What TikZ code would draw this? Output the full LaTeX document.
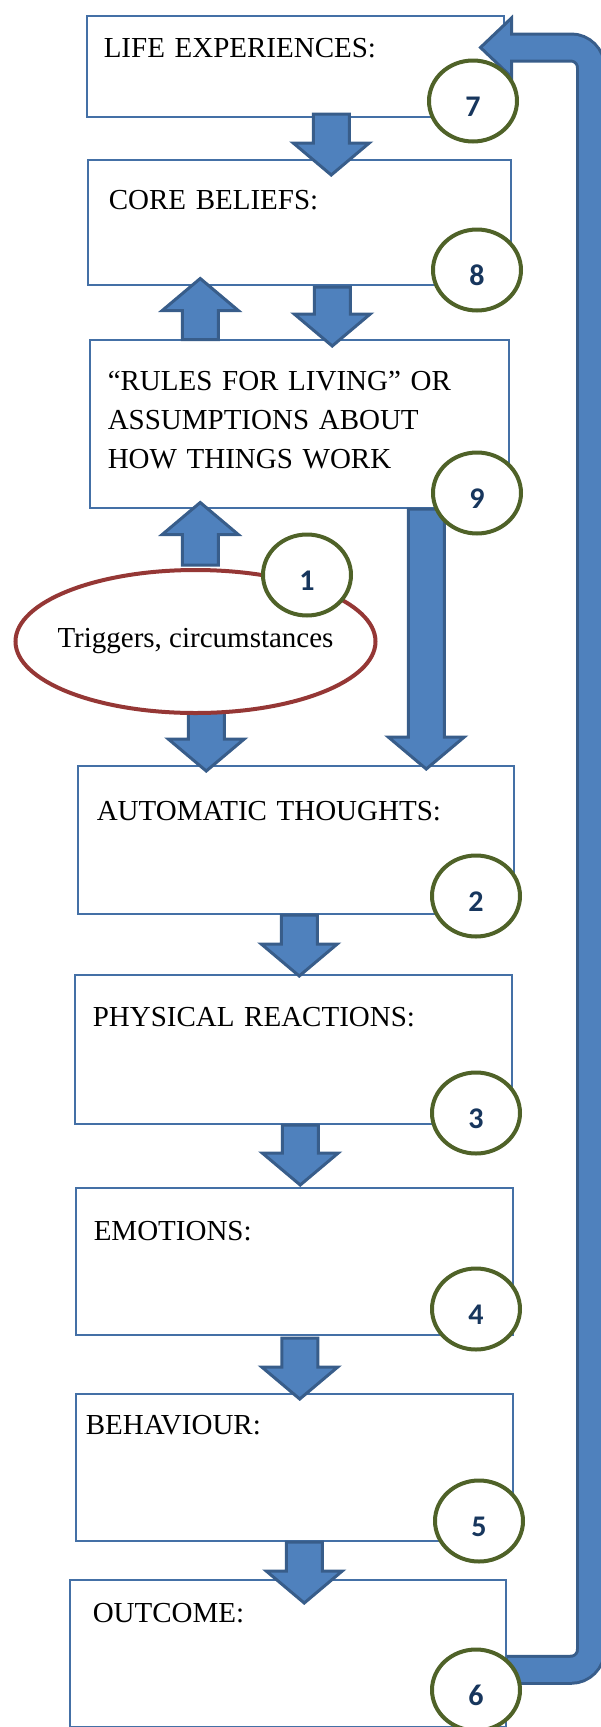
\documentclass[tikz,border=0pt]{standalone}
\usepackage{fontspec}
\setmainfont{Liberation Serif}
\newfontfamily\numfont{Carlito}
\usepackage{tikz}
\usetikzlibrary{shapes.geometric,calc}

\definecolor{boxline}{HTML}{4470A6}
\definecolor{arrowfill}{HTML}{4F81BD}
\definecolor{arrowline}{HTML}{385D8A}
\definecolor{ringline}{HTML}{4F6228}
\definecolor{numtext}{HTML}{17365D}
\definecolor{trigline}{HTML}{953735}

\newcommand{\blockarrow}[2]{%
  \filldraw[barrow] let \p1=(#1), \p2=(#2),
      \n1={sign(\y2-(\y1))}, \n2={\y2-(\n1)*32} in
    (\x1-18pt,\y1) -- (\x1+18pt,\y1) -- (\x1+18pt,\n2) -- (\x1+38pt,\n2)
    -- (\x1,\y2) -- (\x1-38pt,\n2) -- (\x1-18pt,\n2) -- cycle;}

\begin{document}
\begin{tikzpicture}[
    x=1pt, y=-1pt,
    font=\fontsize{29}{39}\selectfont,
    stepbox/.style={rectangle, draw=boxline, line width=1.5pt, fill=white, anchor=north west, inner ysep=0pt, align=left},
    numring/.style={ellipse, draw=ringline, line width=4pt, fill=white, minimum width=88pt, minimum height=81pt, inner sep=0pt, text height=31pt, text depth=0pt, text=numtext, font=\numfont\bfseries\fontsize{30}{30}\selectfont},
    trigger/.style={ellipse, draw=trigline, line width=4pt, fill=white, minimum width=360pt, minimum height=143pt, inner xsep=-60pt, inner ysep=0pt},
    barrow/.style={fill=arrowfill, draw=arrowline, line width=3pt, miter limit=10},
    loopline/.style={rounded corners=20pt, draw=arrowline, line width=30pt}
]
    \useasboundingbox (0,0) rectangle (601,1727);
    \clip (0,0) rectangle (601,1727);

    \node[stepbox, inner xsep=17pt, text width=383pt, text height=42pt, text depth=59pt] (life) at (86,15) {LIFE EXPERIENCES:};
    \node[stepbox, inner xsep=21pt, text width=381pt, text height=50pt, text depth=75pt] (core) at (87,159) {CORE BELIEFS:};
    \node[stepbox, inner xsep=18pt, text width=383pt, text height=51pt, text depth=117pt] (rules) at (89,339) {“RULES FOR LIVING” OR\\ASSUMPTIONS ABOUT\\HOW THINGS WORK};
    \node[stepbox, inner xsep=19pt, text width=398pt, text height=55pt, text depth=93pt] (auto) at (77,765) {AUTOMATIC THOUGHTS:};
    \node[stepbox, inner xsep=18pt, text width=401pt, text height=52pt, text depth=97pt] (phys) at (74,974) {PHYSICAL REACTIONS:};
    \node[stepbox, inner xsep=18pt, text width=401pt, text height=53pt, text depth=94pt] (emo) at (75,1187) {EMOTIONS:};
    \node[stepbox, inner xsep=10pt, text width=417pt, text height=41pt, text depth=106pt] (beh) at (75,1393) {BEHAVIOUR:};
    \node[stepbox, inner xsep=23pt, text width=390pt, text height=43pt, text depth=104pt] (out) at (69,1579) {OUTCOME:};

    % return path from outcome back to life experiences
    \coordinate (loopstart) at ($(out.east)+(0,16.5)$);
    \coordinate (loopturn) at (591,47.5);
    \coordinate (loopend) at ($(life.north east)+(7,32.5)$);
    \draw[loopline] (loopstart) -| (loopturn) -- (loopend);
    \filldraw[barrow] ($(loopend)+(0,-29.5)$) -- ($(loopend)+(-31,0)$) -- ($(loopend)+(0,29.5)$) -- cycle;
    \draw[loopline, draw=arrowfill, line width=24pt] ($(loopstart)+(1.5,0)$) -| (loopturn) -- ($(loopend)+(-3,0)$);

    \blockarrow{$(life.south)+(36,-3.5)$}{$(core.north)+(36,16)$}
    \blockarrow{$(core.south)+(33,1.5)$}{$(rules.north)+(33,7)$}
    \blockarrow{$(rules.north)+(-99,0.5)$}{$(core.south)+(-99,-7)$}
    \blockarrow{$(rules.south)+(-99,56.5)$}{$(rules.south)+(-99,-6)$}
    \blockarrow{$(auto.north)+(-89.5,-65)$}{$(auto.north)+(-89.5,6)$}
    \blockarrow{$(rules.south)+(127,0.5)$}{$(auto.north)+(130.5,4)$}
    \blockarrow{$(auto.south)+(3.5,0.5)$}{$(phys.north)+(6,2)$}
    \blockarrow{$(phys.south)+(7,0.5)$}{$(emo.north)+(6,-2)$}
    \blockarrow{$(emo.south)+(5.5,2.5)$}{$(beh.north)+(5.5,6)$}
    \blockarrow{$(beh.south)+(10,0.5)$}{$(out.north)+(16.5,24)$}

    \node[trigger] (trig) at (195.5,641.5) {Triggers, circumstances};

    \node[numring] (n7) at (473,101) {7};
    \node[numring] (n8) at (477,270) {8};
    \node[numring] (n9) at (477,493) {9};
    \node[numring] (n1) at (307,575) {1};
    \node[numring] (n2) at (476,896) {2};
    \node[numring] (n3) at (476,1113) {3};
    \node[numring] (n4) at (476,1309) {4};
    \node[numring] (n5) at (479,1521) {5};
    \node[numring] (n6) at (476,1690) {6};
\end{tikzpicture}
\end{document}
